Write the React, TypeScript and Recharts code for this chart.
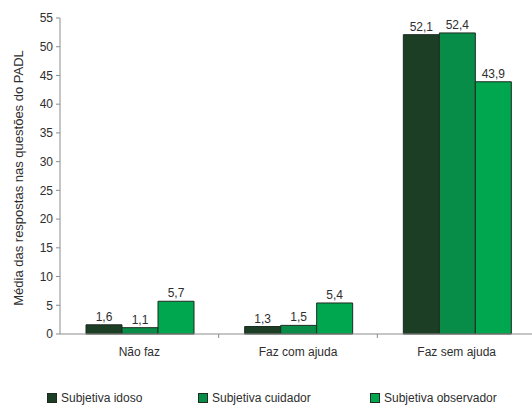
import React from 'react';
import {
  BarChart,
  Bar,
  XAxis,
  YAxis,
  Legend,
  LabelList,
} from 'recharts';

// categories and series values
const categories = ['Não faz', 'Faz com ajuda', 'Faz sem ajuda'];
const idoso = [1.6, 1.3, 52.1];
const cuidador = [1.1, 1.5, 52.4];
const observador = [5.7, 5.4, 43.9];
const yTicks = [0, 5, 10, 15, 20, 25, 30, 35, 40, 45, 50, 55];

const seriesNames = {
  idoso: 'Subjetiva idoso',
  cuidador: 'Subjetiva cuidador',
  observador: 'Subjetiva observador',
};

const COLORS = {
  idoso: '#1c3e24',
  cuidador: '#078d48',
  observador: '#00a74f',
};

// legend slot widths (px)
const LEGEND_SLOTS = { idoso: 151, cuidador: 172, observador: 160 };

const CHART_W = 536;
const CHART_H = 406;
const Y_AXIS_W = 60;
const FONT = '"Liberation Sans", Arial, Helvetica, sans-serif';
const TEXT = '#2e2e2e';
const AXIS = '#8c8c8c';

const data = categories.map((name, i) => ({
  name,
  idoso: idoso[i],
  cuidador: cuidador[i],
  observador: observador[i],
}));

const bandWidth = (CHART_W - Y_AXIS_W) / categories.length;

const fmt = (v: any) => String(v).replace('.', ',');

// category label centred in the band, tick mark on the band's left edge
const CategoryTick = (props: any) => {
  const { x, y, payload, index } = props;
  const edge = x - bandWidth / 2;
  return (
    <g>
      {index > 0 && (
        <line x1={edge} y1={y} x2={edge} y2={y + 4} stroke={AXIS} strokeWidth={1} />
      )}
      <text x={x} y={y + 22} textAnchor="middle" fontSize={12} fill={TEXT} fontFamily={FONT}>
        {payload.value}
      </text>
    </g>
  );
};

const YLabel = (props: any) => {
  const { viewBox } = props;
  const cx = viewBox.x + 18;
  const cy = viewBox.y + viewBox.height / 2 + 2;
  return (
    <text
      x={cx}
      y={cy}
      transform={`rotate(-90, ${cx}, ${cy})`}
      textAnchor="middle"
      dominantBaseline="central"
      fontSize={13}
      fill={TEXT}
      fontFamily={FONT}
    >
      Média das respostas nas questões do PADL
    </text>
  );
};

const LegendContent = () => {
  const keys: (keyof typeof COLORS)[] = ['idoso', 'cuidador', 'observador'];
  return (
    <div
      style={{
        display: 'flex',
        height: 16,
        alignItems: 'center',
        paddingLeft: 47,
        fontFamily: FONT,
        fontSize: 12,
        color: TEXT,
        whiteSpace: 'nowrap',
      }}
    >
      {keys.map((k) => (
        <div
          key={k}
          style={{ display: 'flex', alignItems: 'center', width: LEGEND_SLOTS[k], flexShrink: 0 }}
        >
          <span
            style={{
              width: 8,
              height: 8,
              background: COLORS[k],
              border: '1px solid #1d2b20',
              marginRight: 4,
              display: 'inline-block',
              flexShrink: 0,
            }}
          />
          <span>{seriesNames[k]}</span>
        </div>
      ))}
    </div>
  );
};

const App = () => {
  return (
    <div
      style={{
        position: 'absolute',
        left: 0,
        top: 0,
        width: 532,
        height: CHART_H,
        overflow: 'hidden',
        background: '#ffffff',
      }}
    >
      <BarChart
        width={CHART_W}
        height={CHART_H}
        data={data}
        margin={{ top: 18, right: 0, bottom: 0, left: 0 }}
        barCategoryGap={26}
        barGap={0}
      >
        <XAxis
          dataKey="name"
          height={56}
          stroke={AXIS}
          tickLine={false}
          tickSize={0}
          tickMargin={0}
          tick={<CategoryTick />}
          interval={0}
        />
        <YAxis
          width={Y_AXIS_W}
          domain={[0, 55]}
          ticks={yTicks}
          interval={0}
          stroke={AXIS}
          tickSize={4}
          tickMargin={3}
          tick={{ fontSize: 12, fill: TEXT, fontFamily: FONT }}
          label={<YLabel />}
        />
        <Legend
          verticalAlign="bottom"
          content={<LegendContent />}
          wrapperStyle={{ left: 0, width: 532 }}
        />
        <Bar dataKey="idoso" name={seriesNames.idoso} fill={COLORS.idoso} stroke="#1d2b20" strokeWidth={1} isAnimationActive={false}>
          <LabelList dataKey="idoso" position="top" offset={4} formatter={fmt} style={{ fontSize: 12, fill: TEXT, fontFamily: FONT }} />
        </Bar>
        <Bar dataKey="cuidador" name={seriesNames.cuidador} fill={COLORS.cuidador} stroke="#1d2b20" strokeWidth={1} isAnimationActive={false}>
          <LabelList dataKey="cuidador" position="top" offset={4} formatter={fmt} style={{ fontSize: 12, fill: TEXT, fontFamily: FONT }} />
        </Bar>
        <Bar dataKey="observador" name={seriesNames.observador} fill={COLORS.observador} stroke="#1d2b20" strokeWidth={1} isAnimationActive={false}>
          <LabelList dataKey="observador" position="top" offset={4} formatter={fmt} style={{ fontSize: 12, fill: TEXT, fontFamily: FONT }} />
        </Bar>
      </BarChart>
    </div>
  );
};

export default App;
